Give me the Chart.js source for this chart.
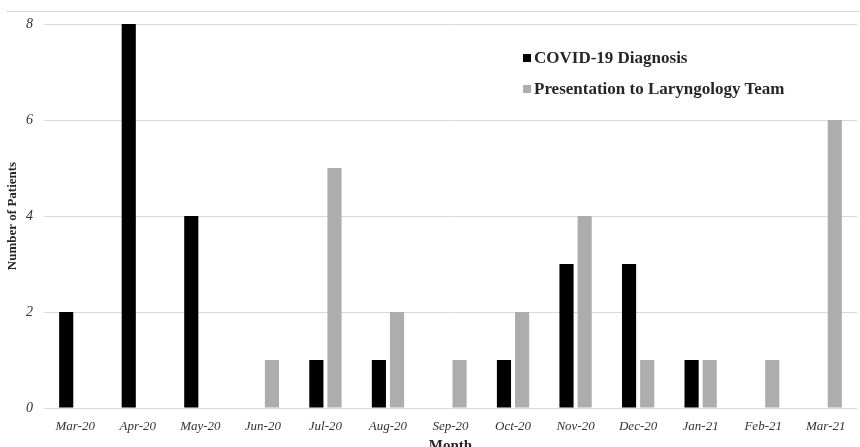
<!DOCTYPE html>
<html>
<head>
<meta charset="utf-8">
<script src="https://cdn.jsdelivr.net/npm/chart.js@4.4.1/dist/chart.umd.min.js"></script>
<style>
  body { margin: 0; background: #fff; }
  #wrap { position: relative; width: 860px; height: 447px; overflow: hidden; }
  #topline { position: absolute; left: 6px; right: 0; top: 11px; border-top: 1px solid #d6d6d6; }
  #chart-box { position: absolute; left: 0; top: 0; width: 860px; height: 455px; }
  #legend { position: absolute; left: 523px; top: 42px; font: bold 17px "Liberation Serif", serif; color: #262626; }
  #legend .row { display: flex; align-items: center; height: 31px; }
  #legend .sw { width: 8px; height: 8px; margin-right: 3px; }
</style>
</head>
<body>
<div id="wrap">
  <div id="topline"></div>
  <div id="chart-box"><canvas id="patients_chart"></canvas></div>
  <div id="legend"></div>
</div>
<script>
// DATA
const months = ["Mar-20", "Apr-20", "May-20", "Jun-20", "Jul-20", "Aug-20", "Sep-20",
  "Oct-20", "Nov-20", "Dec-20", "Jan-21", "Feb-21", "Mar-21"];
const diagnosis_list = [2, 8, 4, 0, 1, 1, 0, 1, 3, 3, 1, 0, 0];
const presentation_list = [0, 0, 0, 1, 5, 2, 1, 2, 4, 1, 1, 1, 6];
const y_ticks = [0, 2, 4, 6, 8];

const serif = '"Liberation Serif", "Times New Roman", serif';
const ctx = document.getElementById("patients_chart").getContext("2d");

const my_chart = new Chart(ctx, {
  type: "bar",
  data: {
    labels: months,
    datasets: [
      {
        label: "COVID-19 Diagnosis",
        data: diagnosis_list,
        backgroundColor: "#000000",
        categoryPercentage: 0.58,
        barPercentage: 0.78,
      },
      {
        label: "Presentation to Laryngology Team",
        data: presentation_list,
        backgroundColor: "#adadad",
        categoryPercentage: 0.58,
        barPercentage: 0.78,
      },
    ],
  },
  options: {
    responsive: true,
    maintainAspectRatio: false,
    animation: false,
    layout: { padding: { top: 24, right: 3, left: 0, bottom: 0 } },
    plugins: {
      legend: { display: false },
      tooltip: { enabled: false },
    },
    scales: {
      x: {
        grid: { display: false, drawTicks: false },
        border: { display: false },
        ticks: {
          color: "#333",
          padding: 11,
          maxRotation: 0,
          autoSkip: false,
          font: { family: serif, size: 13, style: "italic" },
        },
        title: {
          display: true,
          text: "Month",
          color: "#262626",
          padding: 0,
          font: { family: serif, size: 15, weight: "bold" },
        },
        afterFit: (scale) => { scale.height = 47; },
      },
      y: {
        min: 0,
        max: 8,
        afterBuildTicks: (scale) => { scale.ticks = y_ticks.map(v => ({ value: v })); },
        grid: { color: "#d9d9d9", lineWidth: 1, drawTicks: false },
        border: { display: false },
        ticks: {
          color: "#333",
          padding: 11,
          font: { family: serif, size: 14, style: "italic" },
        },
        title: {
          display: true,
          text: "Number of Patients",
          color: "#262626",
          padding: { top: 5, bottom: 0 },
          font: { family: serif, size: 13, weight: "bold" },
        },
        afterFit: (scale) => { scale.width = 44; },
      },
    },
  },
});

// LEGEND
const legend_element = document.getElementById("legend");
my_chart.data.datasets.forEach(ds => {
  const row = document.createElement("div");
  row.className = "row";
  const sw = document.createElement("span");
  sw.className = "sw";
  sw.style.background = ds.backgroundColor;
  const txt = document.createElement("span");
  txt.textContent = ds.label;
  row.appendChild(sw);
  row.appendChild(txt);
  legend_element.appendChild(row);
});
</script>
</body>
</html>
